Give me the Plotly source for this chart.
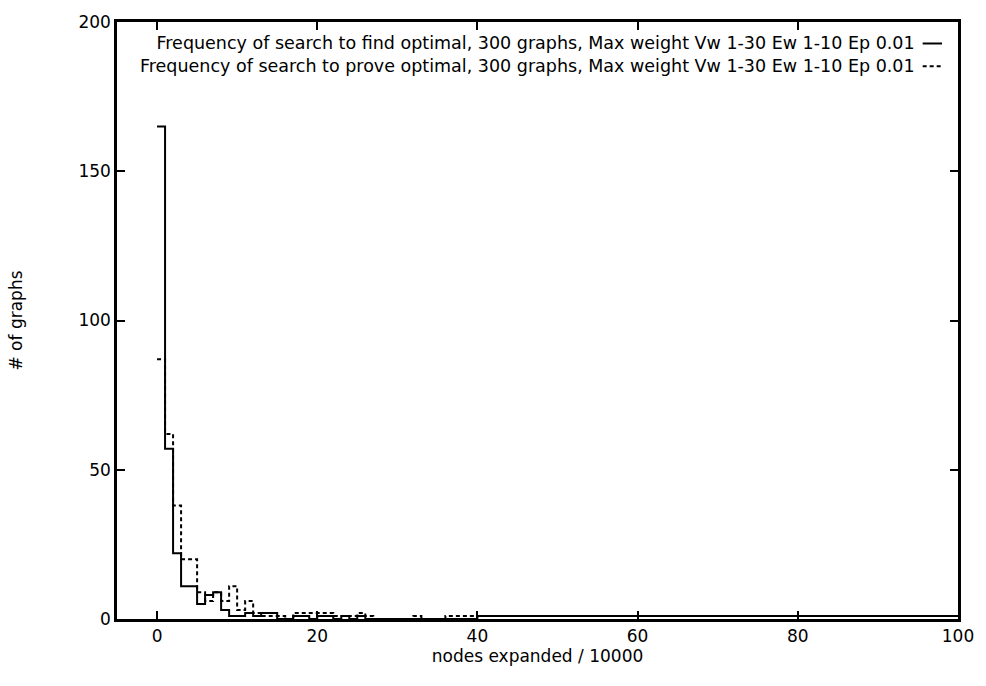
import plotly.graph_objects as go

# bin left edges (nodes expanded / 10000) and counts
bins = list(range(0, 41)) + [100]
find_counts = [165, 57, 22, 11, 11, 5, 8, 9, 3, 1, 1, 2, 1, 2, 2, 0, 0, 1, 1, 0,
               1, 1, 0, 1, 0, 1, 0, 0, 0, 0, 0, 0, 0, 0, 0, 0, 0, 0, 0, 0, 1, 1]
prove_counts = [87, 62, 38, 20, 20, 9, 6, 9, 6, 11, 3, 6, 2, 1, 1, 1, 0, 2, 2, 2,
                2, 2, 1, 1, 1, 2, 1, 0, 0, 0, 0, 0, 1, 0, 0, 0, 1, 1, 1, 1, 1, 1]

find_name = "Frequency of search to find optimal, 300 graphs, Max weight Vw 1-30 Ew 1-10 Ep 0.01"
prove_name = "Frequency of search to prove optimal, 300 graphs, Max weight Vw 1-30 Ew 1-10 Ep 0.01"

x_ticks = [0, 20, 40, 60, 80, 100]
y_ticks = [0, 50, 100, 150, 200]

FONT = "DejaVu Sans, Liberation Sans, sans-serif"
DASH = "4px,3px"

fig = go.Figure()
fig.add_trace(go.Scatter(x=bins, y=find_counts, mode="lines", line_shape="hv",
                         line=dict(color="black", width=2), name=find_name,
                         showlegend=False))
fig.add_trace(go.Scatter(x=bins, y=prove_counts, mode="lines", line_shape="hv",
                         line=dict(color="black", width=2, dash=DASH), name=prove_name,
                         showlegend=False))

# gnuplot-style key: right-aligned text block with line samples to the right
fig.add_annotation(x=0.951, y=0.945, xref="paper", yref="paper",
                   text=find_name + "<br>" + prove_name, align="right",
                   showarrow=False, xanchor="right", yanchor="middle",
                   font=dict(family=FONT, size=17.5, color="black"))
for yk, dash in [(0.964, "solid"), (0.926, DASH)]:
    fig.add_shape(type="line", xref="paper", yref="paper", x0=0.958, x1=0.981,
                  y0=yk, y1=yk, line=dict(color="black", width=2, dash=dash))

axis_common = dict(showline=True, linecolor="black", linewidth=2.5, mirror="allticks",
                   ticks="inside", ticklen=8, tickwidth=2, tickcolor="black",
                   showgrid=False, zeroline=False,
                   tickfont=dict(family=FONT, size=17, color="black"))

fig.update_xaxes(range=[-5, 100], tickvals=x_ticks, ticktext=[str(v) for v in x_ticks],
                 title=dict(text="nodes expanded / 10000", standoff=2,
                            font=dict(family=FONT, size=17, color="black")),
                 **axis_common)
fig.update_yaxes(range=[0, 200], tickvals=y_ticks, ticktext=[str(v) for v in y_ticks],
                 title=dict(text="# of graphs", standoff=52,
                            font=dict(family=FONT, size=17, color="black")),
                 **axis_common)

fig.update_layout(width=986, height=686, margin=dict(l=117, r=21, t=15, b=67),
                  plot_bgcolor="white", paper_bgcolor="white", showlegend=False)

fig.write_html("out.html")
